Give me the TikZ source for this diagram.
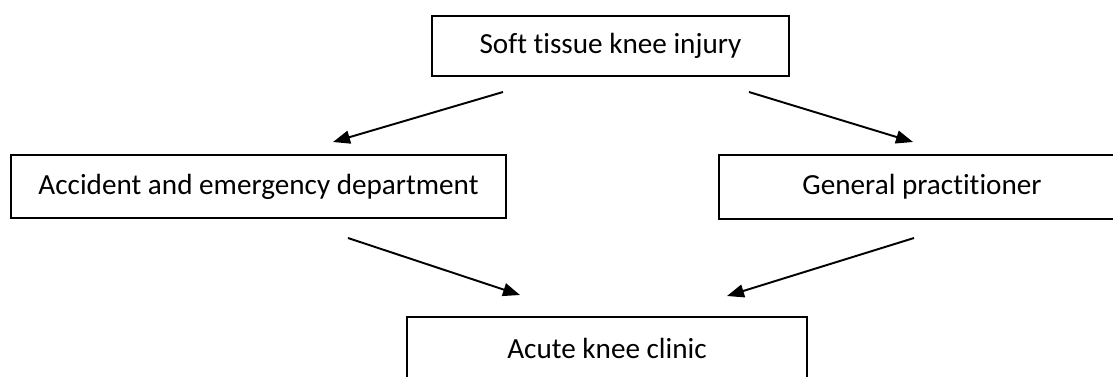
\documentclass[tikz,border=0pt]{standalone}
\usepackage{fontspec}
\setmainfont{Carlito}[Ligatures=NoCommon]
\usetikzlibrary{arrows.meta}
\tikzset{
  flowarrow/.style={-{Triangle[length=3.4mm,width=2.6mm]},line width=1.1pt,draw=black},
  boxbase/.style={draw=black,line width=1.1pt,fill=white,align=center,inner sep=0pt,
    font=\fontsize{16.6}{20}\selectfont},
}
\begin{document}
\begin{tikzpicture}
        \clip (0,0) rectangle (22.26,7.52);
        \fill[white] (0,0) rectangle (22.26,7.52);
        \node[boxbase,minimum width=7.14cm,minimum height=1.2cm] (inj) at (12.21,6.60) {Soft tissue knee injury};
        \node[boxbase,minimum width=9.9cm,minimum height=1.26cm] (ae) at (5.17,3.79) {Accident and emergency department};
        \node[boxbase,minimum width=8.12cm,minimum height=1.28cm] (gp) at (18.44,3.78) {General practitioner};
        \node[boxbase,minimum width=8.0cm,minimum height=1.26cm] (akc) at (12.14,0.55) {Acute knee clinic};
        % free ends of the arrows
        \coordinate (inj-l) at (10.06,5.68);
        \coordinate (inj-r) at (14.98,5.68);
        \coordinate (ae-in) at (6.66,4.68);
        \coordinate (gp-in) at (18.26,4.68);
        \coordinate (ae-out) at (6.96,2.76);
        \coordinate (gp-out) at (18.28,2.76);
        \coordinate (akc-l) at (10.40,1.62);
        \coordinate (akc-r) at (14.54,1.60);
        \draw[flowarrow] (inj-l) -- (ae-in);
        \draw[flowarrow] (inj-r) -- (gp-in);
        \draw[flowarrow] (ae-out) -- (akc-l);
        \draw[flowarrow] (gp-out) -- (akc-r);
      \end{tikzpicture}
\end{document}
